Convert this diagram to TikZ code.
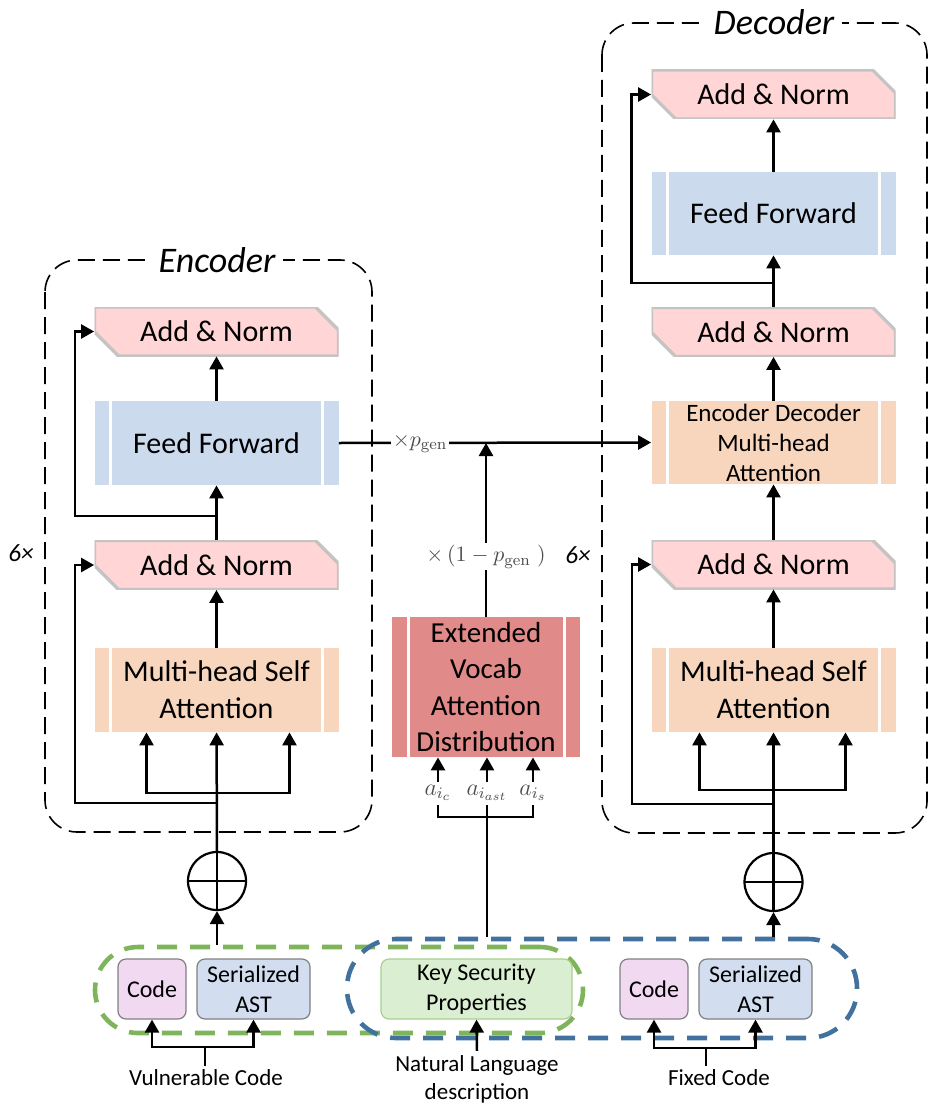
\documentclass[tikz,border=0pt]{standalone}
\usepackage{amsmath}
\usepackage[no-math]{fontspec}
\setmainfont{Carlito}
\usepackage{tikz}
\usetikzlibrary{shapes.geometric}
\usetikzlibrary{arrows.meta,calc}

\definecolor{normred}{HTML}{FFD5D5}
\definecolor{normgray}{HTML}{C4C4C4}
\definecolor{ffblue}{HTML}{CCDAEE}
\definecolor{attnorange}{HTML}{F8D6BE}
\definecolor{vocabred}{HTML}{E08A8A}
\definecolor{codepink}{HTML}{F1D9F1}
\definecolor{astblue}{HTML}{D2DEF0}
\definecolor{kspgreen}{HTML}{DAEED2}
\definecolor{kspedge}{HTML}{A8D08D}
\definecolor{capgreen}{HTML}{7EB55A}
\definecolor{capblue}{HTML}{41719C}

\tikzset{
  arr/.style={-{Triangle[length=6.5pt,width=7pt]}, line width=1.25pt},
  link/.style={line width=1.25pt},
  layerbox/.style={draw, dash pattern=on 8.5pt off 4pt, line width=0.8pt, rounded corners=16pt},
  title/.style={fill=white, inner sep=4pt, font=\fontsize{18}{20}\selectfont\itshape},
  rep/.style={font=\fontsize{12.5}{15}\selectfont\itshape},
  normbox/.style={minimum width=122pt, minimum height=24.5pt, inner sep=0pt, font=\fontsize{15}{18}\selectfont,
    path picture={
      \fill[normred, draw=normgray, line width=1.6pt]
        (path picture bounding box.north west) -- ([xshift=-11.5pt]path picture bounding box.north east)
        -- ([yshift=-11.5pt]path picture bounding box.north east) -- (path picture bounding box.south east)
        -- ([xshift=12pt]path picture bounding box.south west) -- ([yshift=12pt]path picture bounding box.south west) -- cycle;
    }},
  barbox/.style={fill=#1, minimum width=122pt, inner sep=0pt, align=center,
    font=\fontsize{15}{18.5}\selectfont,
    path picture={
      \draw[white, line width=1.5pt] ([xshift=8pt]path picture bounding box.south west) -- ([xshift=8pt]path picture bounding box.north west);
      \draw[white, line width=1.5pt] ([xshift=-8pt]path picture bounding box.south east) -- ([xshift=-8pt]path picture bounding box.north east);
    }},
  plus/.style={circle, draw, line width=1.1pt, minimum size=29pt, inner sep=0pt,
    path picture={
      \draw[line width=1.1pt] (path picture bounding box.west) -- (path picture bounding box.east);
      \draw[line width=1.1pt] (path picture bounding box.north) -- (path picture bounding box.south);
    }},
  inbox/.style={draw=#1, rounded corners=4pt, line width=0.6pt, minimum height=30pt,
    inner sep=0pt, align=center, font=\fontsize{12}{15}\selectfont},
  capsule/.style={draw=#1, line width=2.3pt, dash pattern=on 10pt off 6.5pt},
  lbl/.style={inner sep=2pt, align=center, font=\fontsize{11.5}{14}\selectfont},
  mlabel/.style={fill=white, inner sep=1pt, text=black!70, font=\fontsize{11}{13}\selectfont},
  alabel/.style={inner sep=0pt, text height=6.5pt, text depth=5pt, text=black!70, font=\fontsize{12}{14}\selectfont}
}

\begin{document}
\begin{tikzpicture}[x=0.5pt,y=-0.5pt]
  \useasboundingbox (0,0) rectangle (930,1107);

  %编码器
  \draw[layerbox] (45,260) rectangle (372,832);
  \node (enTitle) at (217,260)[title] {Encoder};
  \node (enAN1) at (216.5,331.5)[normbox] {Add \& Norm};
  \node (enFF) at (216.5,443)[barbox=ffblue, minimum height=42pt] {Feed Forward};
  \node (enAN2) at (216.5,565)[normbox] {Add \& Norm};
  \node (enMH) at (216.5,690)[barbox=attnorange, minimum height=42pt] {Multi-head Self\\Attention};
  \node (enPlus) at (217,881)[plus] {};
  \node (enRep) at (21,553)[rep] {6×};

  \coordinate (enFork) at (217,793);
  \coordinate (enRes1) at (217,803);
  \coordinate (enRes2) at (217,516);
  \draw[arr] (enPlus) -- (enMH);
  \foreach \s in {-35pt,36.5pt} {
    \draw[arr] (enFork) -| ([xshift=\s]enMH.south);
  }
  \draw[arr] (enRes1) -- ++(-142,0) |- (enAN2.west);
  \draw[arr] (enMH) -- (enAN2);
  \draw[arr] (enAN2) -- (enFF);
  \draw[arr] (enRes2) -- ++(-142,0) |- (enAN1.west);
  \draw[arr] (enFF) -- (enAN1);

  %解码器
  \draw[layerbox] (602,23) rectangle (927,833);
  \node (deTitle) at (774,22)[title] {Decoder};
  \node (deAN1) at (773.5,94.5)[normbox] {Add \& Norm};
  \node (deFF) at (773.5,213.5)[barbox=ffblue, minimum height=41.5pt] {Feed Forward};
  \node (deAN2) at (773.5,332)[normbox] {Add \& Norm};
  \node (deED) at (773.5,442.5)[barbox=attnorange, minimum height=41.5pt, font=\fontsize{12.5}{15}\selectfont] {Encoder Decoder\\Multi-head\\Attention};
  \node (deAN3) at (773.5,564.5)[normbox] {Add \& Norm};
  \node (deMH) at (773.5,690)[barbox=attnorange, minimum height=42pt] {Multi-head Self\\Attention};
  \node (dePlus) at (773.5,882)[plus] {};
  \node (deRep) at (578,555)[rep] {6×};

  \coordinate (deFork) at (773.5,790);
  \coordinate (deRes1) at (773.5,804);
  \coordinate (deRes2) at (773.5,283);
  \draw[arr] (dePlus) -- (deMH);
  \foreach \s in {-37pt,36pt} {
    \draw[arr] (deFork) -| ([xshift=\s]deMH.south);
  }
  \draw[arr] (deRes1) -- ++(-141.5,0) |- (deAN3.west);
  \draw[arr] (deMH) -- (deAN3);
  \draw[arr] (deAN3) -- (deED);
  \draw[arr] (deED) -- (deAN2);
  \draw[arr] (deAN2) -- (deFF);
  \draw[arr] (deRes2) -- ++(-142,0) |- (deAN1.west);
  \draw[arr] (deFF) -- (deAN1);

  %中间: 扩展词表注意力分布
  \node (vocab) at (486,687)[barbox=vocabred, minimum width=94pt, minimum height=70pt, font=\fontsize{14.5}{18.3}\selectfont] {Extended\\Vocab\\Attention\\Distribution};
  \draw[arr] (enFF.east) -- node[mlabel, pos=0.26] {$\times p_{\mathrm{gen}}$} (deED.west);
  \draw[arr] (vocab.north) -- node[mlabel, pos=0.345] {$\times\,(1-p_{\mathrm{gen}}\;)$} (vocab.north |- enFF.east);

  \node (aC) at (438,793.5)[alabel] {$a_{i_c}$};
  \node (aAst) at (487,793.5)[alabel] {$a_{i_{ast}}$};
  \node (aS) at (533,793.5)[alabel] {$a_{i_s}$};
  \foreach \a in {aC,aAst,aS} {
    \draw[arr] (\a.north) -- (\a.north |- vocab.south);
  }
  \coordinate (aJoin) at (487,817);

  %底部输入
  \node (green) at (339,990)[capsule=capgreen, minimum width=244pt, minimum height=43pt, rounded corners=21.5pt] {};
  \node (blue) at (602,988.5)[capsule=capblue, minimum width=255pt, minimum height=49.5pt, rounded corners=24.5pt] {};
  \draw[link] (aC.south) |- (aJoin) -| (aS.south);
  \draw[link] (aAst.south) -- (aAst.south |- blue.north);
  \draw[arr] (enPlus |- green.north) -- (enPlus);
  \draw[arr] (dePlus |- blue.north) -- (dePlus);

  \node (vCode) at (152,989)[inbox=gray, fill=codepink, minimum width=34pt] {Code};
  \node (vAST) at (253.5,989)[inbox=gray, fill=astblue, minimum width=56.5pt] {Serialized\\AST};
  \node (ksp) at (476.5,989)[inbox=kspedge, fill=kspgreen, minimum width=95.5pt] {Key Security\\Properties};
  \node (fCode) at (654,989)[inbox=gray, fill=codepink, minimum width=34pt] {Code};
  \node (fAST) at (755.5,989)[inbox=gray, fill=astblue, minimum width=56.5pt] {Serialized\\AST};

  \node (vLbl) at (206,1078)[lbl] {Vulnerable Code};
  \node (nlLbl) at (477,1079)[lbl] {Natural Language\\description};
  \node (fLbl) at (719,1078)[lbl] {Fixed Code};

  \coordinate (vJoin) at (205,1047);
  \coordinate (fJoin) at (706,1048);
  \draw[link] (vJoin) -- (vJoin |- vLbl.north);
  \draw[arr] (vJoin) -| (vCode.south);
  \draw[arr] (vJoin) -| (vAST.south);
  \draw[arr] (nlLbl.north) -- (ksp.south);
  \draw[link] (fJoin) -- (fJoin |- fLbl.north);
  \draw[arr] (fJoin) -| (fCode.south);
  \draw[arr] (fJoin) -| (fAST.south);
\end{tikzpicture}
\end{document}
